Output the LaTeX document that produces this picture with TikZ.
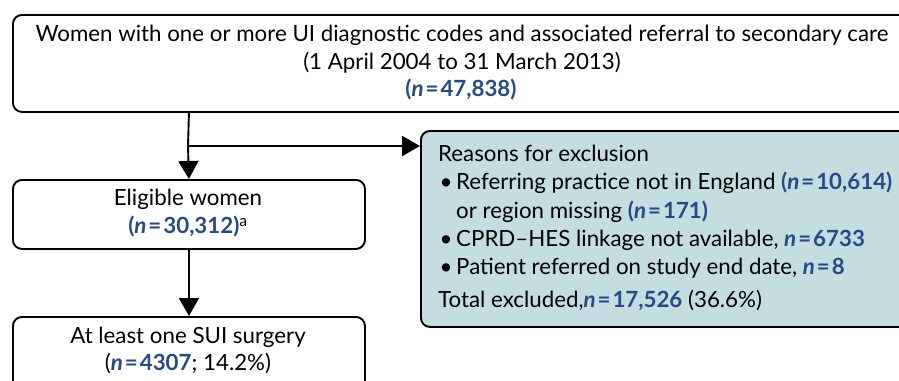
\documentclass[tikz,border=0pt]{standalone}
\usepackage{fontspec}
\setmainfont{Lato}
\usetikzlibrary{arrows.meta}
\definecolor{nblue}{HTML}{274A84}
\definecolor{exfill}{HTML}{C3DDE0}
\newcommand{\nblue}[1]{\textcolor{nblue}{\bfseries #1}}
\newcommand{\nval}[1]{\textcolor{nblue}{\bfseries\textit{n}\hspace{2pt}=\hspace{2pt}#1}}
\tikzset{
  box/.style={draw, line width=1.9pt, rounded corners=9pt, inner sep=0pt, anchor=north west, fill=white},
  exbox/.style={box, fill=exfill},
  txt/.style={inner sep=0pt, anchor=center},
  ltxt/.style={inner sep=0pt, anchor=west},
  arr/.style={line width=1.9pt, -{Triangle[length=18pt,width=20pt]}},
}
\begin{document}
\begin{tikzpicture}[x=1pt,y=-1pt,font=\fontsize{22.3}{26}\selectfont]
\useasboundingbox (0,0) rectangle (899,380);
\begin{scope}
\clip (0,0) rectangle (899,380);
\node[box, minimum width=910pt, minimum height=97pt] (top) at (12,14) {};
\node[exbox, minimum width=500pt, minimum height=196pt] (excl) at (420,130) {};
\node[box, minimum width=352pt, minimum height=69pt] (elig) at (12,179) {};
\node[box, minimum width=352pt, minimum height=90pt] (surg) at (12,316) {};

\node[txt] (t1) at (462,35) {Women with one or more UI diagnostic codes and associated referral to secondary care};
\node[txt] (t2) at (462,63) {(1 April 2004 to 31 March 2013)};
\node[txt] (t3) at (461,90) {\nblue{(}\nval{47,838}\nblue{)}};

\node[txt] (e1) at (188,199) {Eligible women};
\node[txt] (e2) at (188,227) {\nblue{(}\nval{30,312}\nblue{)}\textsuperscript{a}};

\node[txt] (s1) at (188,337) {At least one SUI surgery};
\node[txt] (s2) at (188,363) {(\nval{4307}; 14.2\%)};

\node[ltxt] (x0) at (438,153) {Reasons for exclusion};
\node[txt] (b1) at (446,184) {\textbullet};
\node[ltxt] (x1) at (456,183) {Referring practice not in England \nblue{(}\nval{10,614}\nblue{)}};
\node[ltxt] (x2) at (456,212) {or region missing \nblue{(}\nval{171}\nblue{)}};
\node[txt] (b3) at (446,241) {\textbullet};
\node[ltxt] (x3) at (456,240) {CPRD–HES linkage not available, \nval{6733}};
\node[txt] (b4) at (446,269) {\textbullet};
\node[ltxt] (x4) at (456,268) {Patient referred on study end date, \nval{8}};
\node[ltxt] (x5) at (438,300) {Total excluded,\nval{17,526} (36.6\%)};

\coordinate (br) at (188,146);
\draw[line width=1.9pt] (elig.north |- top.south) -- (br);
\draw[arr] (br) -- (elig.north);
\draw[arr] (br) -- (excl.west |- br);
\draw[arr] (elig.south) -- (elig.south |- surg.north);
\end{scope}
\end{tikzpicture}
\end{document}
